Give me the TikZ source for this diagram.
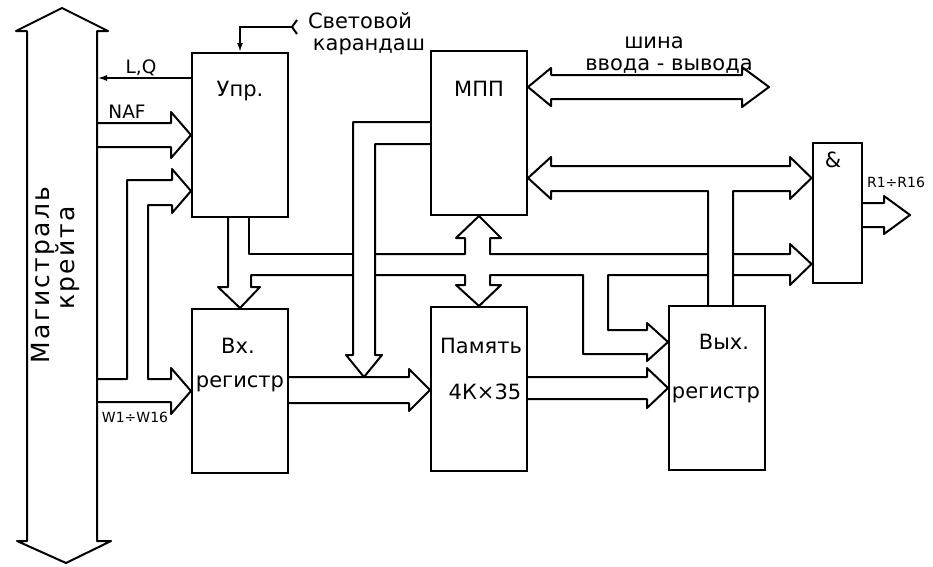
\documentclass[tikz,border=0pt]{standalone}
\usepackage{fontspec}
\setmainfont{DejaVu Sans}
\newfontfamily\magfont[LetterSpace=9]{DejaVu Sans}
\usetikzlibrary{positioning,arrows.meta}

\tikzset{
  blok/.style={draw, line width=2pt, minimum width=96pt, minimum height=164pt, inner sep=0pt},
  bus/.style={line width=2pt, line join=round},
  sig/.style={line width=2pt},
  big/.style={font=\fontsize{21}{24}\selectfont, inner sep=0pt},
  sml/.style={font=\fontsize{18.5}{20}\selectfont, inner sep=0pt},
  tiny/.style={font=\fontsize{14}{16}\selectfont, inner sep=0pt},
  mag/.style={font=\magfont\fontsize{25}{28}\selectfont, inner sep=0pt},
}

\begin{document}
\begin{tikzpicture}[x=1pt, y=-1pt]
\useasboundingbox (0,0) rectangle (933,566);

% Magistral
\draw[bus] (27,541) -- (27,31) -- (16,31) -- (62,8) -- (108,31) -- (97,31)
  -- (97,541) -- (111,541) -- (66,563) -- (17,541) -- cycle;
\node[mag, rotate=90] (mag1) at (43,275) {Магистраль};
\node[mag, rotate=90] (mag2) at (68,258) {крейта};

% Blocks
\node[blok] (upr) at (240,135) {};
\node[blok] (mpp) at (479,133) {};
\node[blok, minimum width=49pt, minimum height=140pt] (konj) at (837,213) {};
\node[blok] (vx) at (240,391) {};
\node[blok] (pam) at (479,389) {};
\node[blok] (vyx) at (717,388) {};

\node[big, below=44pt of upr.north, anchor=base] (upr-t) {Упр.};
\node[big, below=46pt of mpp.north, anchor=base] (mpp-t) {МПП};
\node[big, below=25pt of konj.north, anchor=base, xshift=-4pt] (konj-t) {\&};
\node[big, below=45pt of vx.north, anchor=base, xshift=-2pt] (vx-t1) {Вх.};
\node[big, below=79pt of vx.north, anchor=base] (vx-t2) {регистр};
\node[big, below=47pt of pam.north, anchor=base, xshift=2pt] (pam-t1) {Память};
\node[big, below=93pt of pam.north, anchor=base, xshift=6pt] (pam-t2) {4К×35};
\node[big, below=44pt of vyx.north, anchor=base, xshift=7pt] (vyx-t1) {Вых.};
\node[big, below=93pt of vyx.north, anchor=base, xshift=-1pt] (vyx-t2) {регистр};

% Light pen
\coordinate (kar) at (292,27);
\node[big, anchor=base] (kar-t1) at (360,28) {Световой};
\node[big, anchor=base] (kar-t2) at (369,50) {карандаш};
\draw[sig] (297,20) -- (kar) -- (297,34);
\draw[sig, -{Latex[length=9pt,width=6pt]}] (kar) -| (upr.north);

% L,Q
\coordinate (lq) at (97,78);
\draw[sig, -{Latex[length=10pt,width=6pt]}] (upr.west |- lq) -- (lq);
\node[sml, anchor=base] (lq-t) at (141,73) {L,Q};

% NAF
\draw[bus] (97,123) -- (171,123) -- (171,112) -- (upr.west |- 0,135)
  -- (171,158) -- (171,147) -- (97,147);
\node[sml, anchor=base] (naf-t) at (127,118) {NAF};

% W1-W16
\draw[bus] (97,379) -- (127,379) -- (127,180) -- (172,180) -- (172,169)
  -- (upr.west |- 0,191) -- (172,213) -- (172,205) -- (148,205) -- (148,379)
  -- (171,379) -- (171,368) -- (vx.west |- 0,391) -- (171,414) -- (171,402) -- (97,402);
\node[tiny, anchor=base] (w-t) at (135,422) {W1÷W16};

% Upr -> Vx, common bus
\draw[bus] (upr.south -| 249,0) -- (249,254) -- (353,254);
\draw[bus] (375,254) -- (465,254) -- (465,238) -- (456,238) -- (mpp.south)
  -- (501,238) -- (490,238) -- (490,254) -- (708,254);
\draw[bus] (733,254) -- (790,254) -- (790,244) -- (konj.west |- 0,264)
  -- (790,285) -- (790,275) -- (733,275);
\draw[bus] (708,275) -- (608,275) -- (608,330) -- (647,330) -- (647,323)
  -- (vyx.west |- 0,342) -- (647,361) -- (647,354) -- (583,354) -- (583,275)
  -- (490,275) -- (490,285) -- (501,285) -- (pam.north) -- (456,285)
  -- (465,285) -- (465,275) -- (375,275);
\draw[bus] (353,275) -- (251,275) -- (251,287) -- (260,287) -- (vx.north)
  -- (218,287) -- (228,287) -- (upr.south -| 228,0);

% MPP -> down
\draw[bus] (mpp.west |- 0,122) -- (353,122) -- (353,355) -- (346,355) -- (364,377)
  -- (382,355) -- (375,355) -- (375,144) -- (mpp.west |- 0,144);

% Vx -> Pam
\draw[bus] (vx.east |- 0,377) -- (409,377) -- (409,369) -- (pam.west |- 0,390)
  -- (409,411) -- (409,403) -- (vx.east |- 0,403);

% Pam -> Vyx
\draw[bus] (pam.east |- 0,377) -- (647,377) -- (647,368) -- (vyx.west |- 0,388)
  -- (647,408) -- (647,399) -- (pam.east |- 0,399);

% I/O bus
\coordinate (shina) at (769,87);
\draw[bus] (mpp.east |- 0,87) -- (551,68) -- (551,75) -- (742,75) -- (742,67)
  -- (shina) -- (742,107) -- (742,99) -- (551,99) -- (551,106) -- cycle;
\node[big, anchor=base] (shina-t1) at (654,48) {шина};
\node[big, anchor=base] (shina-t2) at (669,70) {ввода - вывода};

% MPP <-> konj, branch to Vyx
\draw[bus] (vyx.north -| 708,0) -- (708,191) -- (551,191) -- (551,199)
  -- (mpp.east |- 0,178) -- (551,157) -- (551,166) -- (790,166) -- (790,157)
  -- (konj.west |- 0,178) -- (790,199) -- (790,191) -- (733,191) -- (vyx.north -| 733,0);

% R1-R16
\coordinate (rout) at (910,215);
\draw[bus] (konj.east |- 0,203) -- (884,203) -- (884,196) -- (rout)
  -- (884,234) -- (884,227) -- (konj.east |- 0,227);
\node[tiny, anchor=base] (r-t) at (896,187) {R1÷R16};
\end{tikzpicture}
\end{document}
